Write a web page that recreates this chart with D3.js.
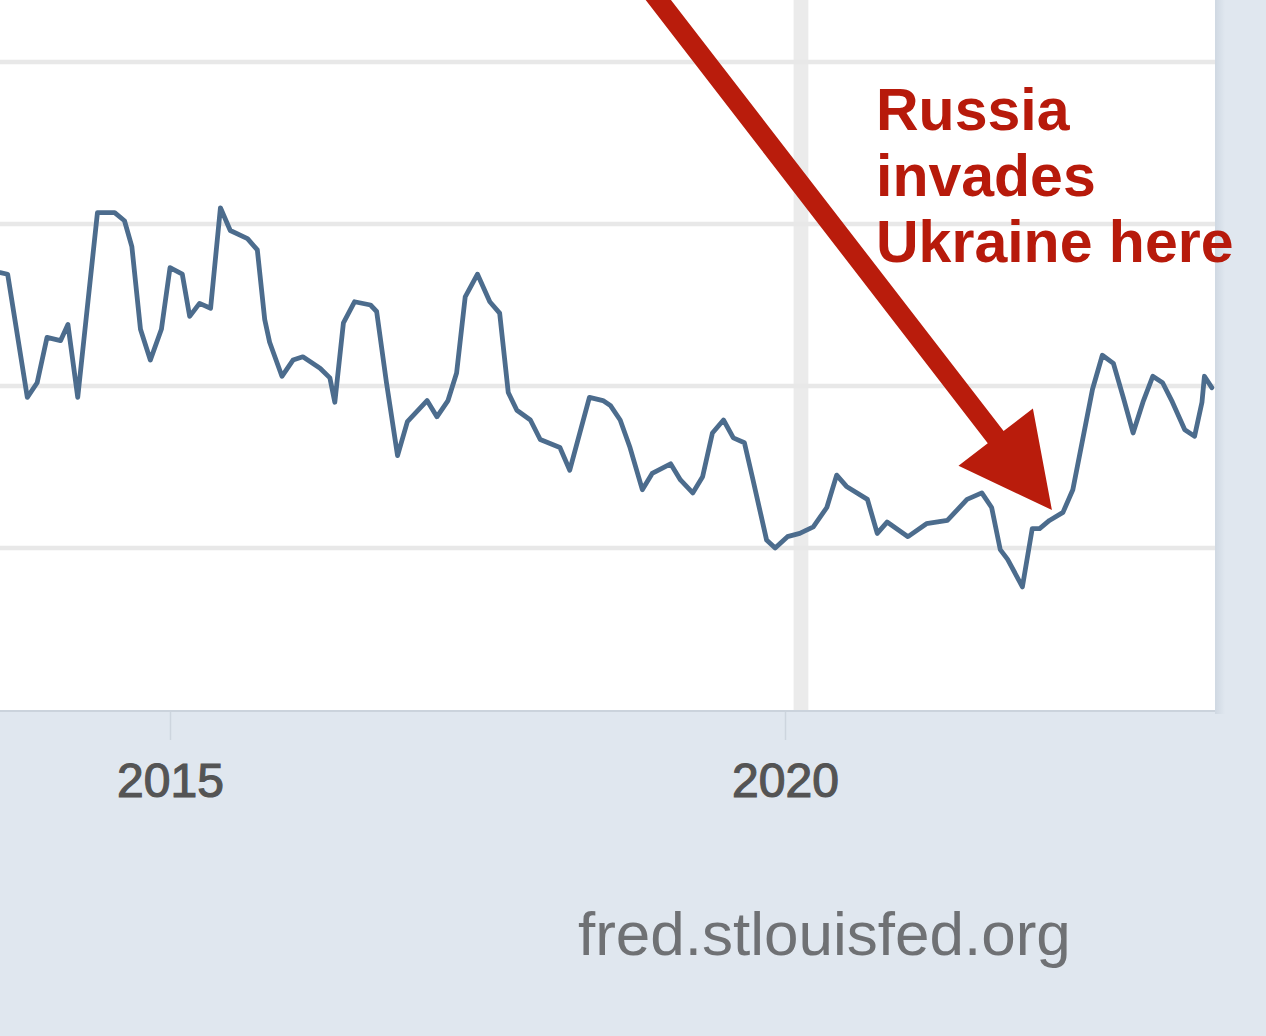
<!DOCTYPE html>
<html>
<head>
<meta charset="utf-8">
<script src="https://cdn.jsdelivr.net/npm/d3@7"></script>
<style>
  html, body { margin: 0; padding: 0; background: #e0e7ef; }
  svg { display: block; }
</style>
</head>
<body>
<svg id="chart" width="1266" height="1036"></svg>
<script>
// ---- data (decimal year, value) ----
const years = [
  2013.62, 2013.68, 2013.84, 2013.92, 2014.00, 2014.11, 2014.17, 2014.25, 2014.41, 2014.55,
  2014.63, 2014.69, 2014.76, 2014.84, 2014.93, 2015.00, 2015.10, 2015.16, 2015.24, 2015.33,
  2015.41, 2015.49, 2015.63, 2015.71, 2015.77, 2015.81, 2015.91, 2016.00, 2016.08, 2016.22,
  2016.30, 2016.34, 2016.41, 2016.50, 2016.63, 2016.68, 2016.76, 2016.85, 2016.93, 2017.09,
  2017.17, 2017.26, 2017.33, 2017.40, 2017.50, 2017.60, 2017.68, 2017.75, 2017.82, 2017.93,
  2018.01, 2018.17, 2018.25, 2018.36, 2018.41, 2018.52, 2018.58, 2018.66, 2018.74, 2018.84,
  2018.92, 2019.07, 2019.15, 2019.25, 2019.33, 2019.41, 2019.50, 2019.58, 2019.67, 2019.74,
  2019.85, 2019.92, 2020.02, 2020.12, 2020.23, 2020.34, 2020.42, 2020.50, 2020.67, 2020.75,
  2020.83, 2021.00, 2021.15, 2021.32, 2021.48, 2021.60, 2021.68, 2021.75, 2021.81, 2021.93,
  2022.01, 2022.07, 2022.15, 2022.26, 2022.34, 2022.42, 2022.50, 2022.58, 2022.67, 2022.75,
  2022.83, 2022.91, 2022.99, 2023.07, 2023.15, 2023.25, 2023.33, 2023.39, 2023.41, 2023.47
];
const values = [
  5.70, 5.69, 4.93, 5.02, 5.30, 5.28, 5.38, 4.93, 6.07, 6.07,
  6.02, 5.86, 5.35, 5.16, 5.35, 5.73, 5.69, 5.43, 5.51, 5.48,
  6.10, 5.96, 5.91, 5.84, 5.41, 5.27, 5.06, 5.16, 5.18, 5.11,
  5.05, 4.90, 5.39, 5.52, 5.50, 5.46, 5.02, 4.57, 4.78, 4.91,
  4.81, 4.91, 5.08, 5.55, 5.69, 5.52, 5.45, 4.96, 4.85, 4.79,
  4.67, 4.62, 4.48, 4.79, 4.93, 4.91, 4.88, 4.79, 4.62, 4.36,
  4.46, 4.52, 4.42, 4.34, 4.44, 4.71, 4.79, 4.68, 4.65, 4.42,
  4.05, 4.00, 4.07, 4.09, 4.13, 4.25, 4.45, 4.38, 4.30, 4.09,
  4.16, 4.07, 4.15, 4.17, 4.30, 4.34, 4.25, 3.99, 3.93, 3.76,
  4.12, 4.12, 4.17, 4.22, 4.36, 4.67, 4.98, 5.19, 5.14, 4.93,
  4.71, 4.90, 5.06, 5.02, 4.90, 4.73, 4.69, 4.90, 5.06, 4.99
];
const xTickValues = [2015, 2020];
const xTickLabels = ["2015", "2020"];
const yGridValues = [4, 5, 6, 7];
const recession = [2020.07, 2020.19];
const annotationLines = ["Russia", "invades", "Ukraine here"];
const annotationAt = [2020.74, 6.58];
const arrowFrom = [2018.80, 7.55];
const arrowTo = [2022.17, 4.235];
const sourceLabel = "fred.stlouisfed.org";

// ---- layout ----
const W = 1266, H = 1036;
const plot = { left: -20, top: -20, right: 1215, bottom: 710 };
const svg = d3.select("#chart");

const x = d3.scaleLinear().domain([2015, 2020]).range([170, 785]);
const y = d3.scaleLinear().domain([3, 7]).range([710, 62]);

// background
svg.append("rect").attr("x", 0).attr("y", 0).attr("width", W).attr("height", H).attr("fill", "#e0e7ef");

// right shadow strip
const defs = svg.append("defs");
const sh = defs.append("linearGradient").attr("id", "shadowR").attr("x1", 0).attr("x2", 1);
sh.append("stop").attr("offset", 0).attr("stop-color", "#cfd8e2");
sh.append("stop").attr("offset", 1).attr("stop-color", "#e0e7ef");
svg.append("rect").attr("x", plot.right).attr("y", 0).attr("width", 10).attr("height", plot.bottom + 4)
  .attr("fill", "url(#shadowR)");

// plot area
svg.append("rect")
  .attr("x", plot.left).attr("y", plot.top)
  .attr("width", plot.right - plot.left).attr("height", plot.bottom - plot.top)
  .attr("fill", "#ffffff");

defs.append("clipPath").attr("id", "clip").append("rect")
  .attr("x", plot.left).attr("y", plot.top)
  .attr("width", plot.right - plot.left).attr("height", plot.bottom - plot.top);

const g = svg.append("g").attr("clip-path", "url(#clip)");

// recession shading
g.append("rect")
  .attr("x", x(recession[0])).attr("y", plot.top)
  .attr("width", x(recession[1]) - x(recession[0]))
  .attr("height", plot.bottom - plot.top)
  .attr("fill", "#ebebeb");

// horizontal gridlines
g.selectAll("line.grid").data(yGridValues).join("line")
  .attr("class", "grid")
  .attr("x1", plot.left).attr("x2", plot.right)
  .attr("y1", d => y(d)).attr("y2", d => y(d))
  .attr("stroke", "#e8e8e8").attr("stroke-width", 4.5);

// series line
const pts = years.map((yr, i) => [yr, values[i]]);
const line = d3.line().x(d => x(d[0])).y(d => y(d[1]));
g.append("path").datum(pts)
  .attr("d", line)
  .attr("fill", "none")
  .attr("stroke", "#4c6c8d")
  .attr("stroke-width", 4.8)
  .attr("stroke-linejoin", "round")
  .attr("stroke-linecap", "round");

// bottom border of plot
svg.append("line")
  .attr("x1", 0).attr("x2", plot.right)
  .attr("y1", plot.bottom + 1).attr("y2", plot.bottom + 1)
  .attr("stroke", "#cbd3dc").attr("stroke-width", 2);

// x axis
const xAxis = d3.axisBottom(x)
  .tickValues(xTickValues)
  .tickFormat((d, i) => xTickLabels[i])
  .tickSize(28)
  .tickPadding(23);
const ax = svg.append("g").attr("transform", `translate(0,${plot.bottom + 2})`).call(xAxis);
ax.select(".domain").remove();
ax.selectAll(".tick line").attr("stroke", "#cdd5de").attr("stroke-width", 1.5);
ax.selectAll(".tick text")
  .attr("font-family", "'Liberation Sans', Arial, sans-serif")
  .attr("font-size", 48)
  .attr("fill", "#545454")
  .attr("stroke", "#545454").attr("stroke-width", 1.2);

// arrow annotation
const p0 = [x(arrowFrom[0]), y(arrowFrom[1])];
const p1 = [x(arrowTo[0]), y(arrowTo[1])];
const dx = p1[0] - p0[0], dy = p1[1] - p0[1];
const len = Math.hypot(dx, dy);
const ux = dx / len, uy = dy / len;
const nx = -uy, ny = ux;
const shaftHalf = 10, headLen = 92, headHalf = 47;
const bx = p1[0] - ux * headLen, by = p1[1] - uy * headLen;
const arrowPts = [
  [p0[0] + nx * shaftHalf, p0[1] + ny * shaftHalf],
  [bx + nx * shaftHalf, by + ny * shaftHalf],
  [bx + nx * headHalf, by + ny * headHalf],
  [p1[0], p1[1]],
  [bx - nx * headHalf, by - ny * headHalf],
  [bx - nx * shaftHalf, by - ny * shaftHalf],
  [p0[0] - nx * shaftHalf, p0[1] - ny * shaftHalf]
];
svg.append("polygon")
  .attr("points", arrowPts.map(p => p.join(",")).join(" "))
  .attr("fill", "#b91c0c");

// annotation text
const t = svg.append("text")
  .attr("x", x(annotationAt[0])).attr("y", y(annotationAt[1]))
  .attr("font-family", "'Liberation Sans', Arial, Helvetica, sans-serif")
  .attr("font-weight", "bold")
  .attr("font-size", 59)
  .attr("fill", "#b71a0b");
t.selectAll("tspan").data(annotationLines).join("tspan")
  .attr("x", x(annotationAt[0]))
  .attr("dy", (d, i) => i === 0 ? 0 : 66)
  .text(d => d);

// source label
svg.append("text")
  .attr("x", 578).attr("y", 955)
  .attr("font-family", "'Liberation Sans', Arial, sans-serif")
  .attr("font-size", 62)
  .attr("fill", "#6f7174")
  .text(sourceLabel);
</script>
</body>
</html>
